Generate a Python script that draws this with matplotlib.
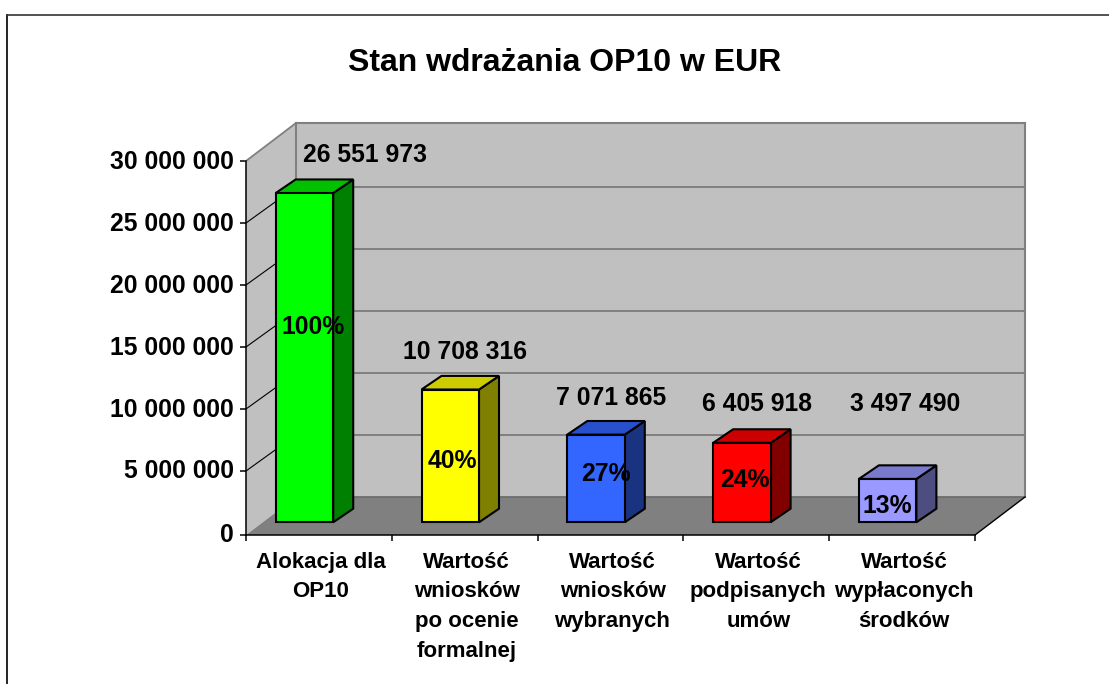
import matplotlib
matplotlib.use("Agg")
import matplotlib.pyplot as plt
from matplotlib.patches import Polygon
from matplotlib.lines import Line2D
from matplotlib.transforms import ScaledTranslation

categories = ["Alokacja dla\nOP10", "Wartość\nwniosków\npo ocenie\nformalnej", "Wartość\nwniosków\nwybranych",
              "Wartość\npodpisanych\numów", "Wartość\nwypłaconych\nśrodków"]
values = [26551973, 10708316, 7071865, 6405918, 3497490]
value_labels = ["26 551 973", "10 708 316", "7 071 865", "6 405 918", "3 497 490"]
percent_labels = ["100%", "40%", "27%", "24%", "13%"]
y_ticks = [5000000, 10000000, 15000000, 20000000, 25000000, 30000000]
y_tick_labels = ["5 000 000", "10 000 000", "15 000 000", "20 000 000", "25 000 000", "30 000 000"]
title = "Stan wdrażania OP10 w EUR"

front_colors = ["#00FF00", "#FFFF00", "#3366FF", "#FF0000", "#9999FF"]
top_colors = ["#00C000", "#CCCC00", "#2850CC", "#CC0000", "#7A7ACC"]
side_colors = ["#008000", "#808000", "#1A3380", "#800000", "#4D4D80"]
# label offsets in pixels from the top-centre of each bar's front face
value_off = [(61, 38), (15, 37.5), (15, 36.6), (15, 39), (17.5, 75)]
percent_off = [(8.5, -134), (2, -71.5), (10, -39.4), (3, -37), (0, -27)]

W, H = 1109, 684
plt.rcParams["font.family"] = ["Liberation Sans", "DejaVu Sans"]
plt.rcParams["font.weight"] = "bold"
fig = plt.figure(figsize=(W / 100, H / 100), dpi=100)
L, R, T, B, B0 = 246, 975, 161, 535, 533
px_y = 30000000 / (B0 - T)
px_x = 5 / (R - L)
YMIN = -(B - B0) * px_y
ax = fig.add_axes([L / W, 1 - B / H, (R - L) / W, (B - T) / H])
ax.set_xlim(0, 5)
ax.set_ylim(YMIN, 30000000)

DX, DY = 50 * px_x, 38 * px_y          # depth of the chart box
GDY = 36 * px_y                        # depth lift of the gridlines
BDX, BDY = 20 * px_x, 13.6 * px_y      # depth of a bar
FLOOR = 10.7 * px_y                    # lift of the bar base above zero
BAR_L, BAR_W = 29.7 * px_x, 57.5 * px_x
TOP = 30000000

wall = "#C0C0C0"
edge = "#808080"
ax.add_patch(Polygon([(0, YMIN), (0, TOP), (DX, TOP + DY), (DX, YMIN + DY)], fc=wall, ec="none", zorder=1, clip_on=False))
ax.add_patch(Polygon([(DX, YMIN + DY), (DX, TOP + DY), (5 + DX, TOP + DY), (5 + DX, YMIN + DY)], fc=wall, ec="none", zorder=1, clip_on=False))
ax.add_patch(Polygon([(0, YMIN), (DX, YMIN + DY), (5 + DX, YMIN + DY), (5, YMIN)], fc=edge, ec="none", zorder=1, clip_on=False))

def seg(xs, ys, c, lw, z=2):
    ax.add_line(Line2D(xs, ys, color=c, lw=lw, zorder=z, clip_on=False, solid_capstyle="projecting"))

for v in y_ticks[:-1]:
    seg([DX, 5 + DX], [v + GDY, v + GDY], "#6E6E6E", 1.1)
    seg([0, DX], [v, v + GDY], "black", 0.8)
seg([0, DX], [TOP, TOP + DY], edge, 1.3)
seg([DX, 5 + DX], [TOP + DY, TOP + DY], edge, 1.5)
seg([DX, DX], [YMIN + DY, TOP + DY], edge, 1.5)
seg([5 + DX, 5 + DX], [YMIN + DY, TOP + DY], edge, 1.5)
seg([DX, 5 + DX], [YMIN + DY, YMIN + DY], "#6E6E6E", 1.3)
seg([5, 5 + DX], [YMIN, YMIN + DY], "black", 1.0)

for i, v in enumerate(values):
    x0, x1 = i + BAR_L, i + BAR_L + BAR_W
    y0, y1 = FLOOR, v + FLOOR
    kw = dict(ec="black", lw=1.5, joinstyle="miter", zorder=5, clip_on=False)
    ax.add_patch(Polygon([(x1, y0), (x1 + BDX, y0 + BDY), (x1 + BDX, y1 + BDY), (x1, y1)], fc=side_colors[i], **kw))
    ax.add_patch(Polygon([(x0, y1), (x0 + BDX, y1 + BDY), (x1 + BDX, y1 + BDY), (x1, y1)], fc=top_colors[i], **kw))
    ax.add_patch(Polygon([(x0, y0), (x1, y0), (x1, y1), (x0, y1)], fc=front_colors[i], **kw))
    cx = (x0 + x1) / 2
    ax.annotate(value_labels[i], (cx, y1), xytext=value_off[i], textcoords="offset pixels",
                ha="center", va="center", fontsize=17.8, fontweight="bold", zorder=7, annotation_clip=False)
    ax.annotate(percent_labels[i], (cx, y1), xytext=percent_off[i], textcoords="offset pixels",
                ha="center", va="center", fontsize=17.8, fontweight="bold", zorder=7, annotation_clip=False)

for s in ("top", "right"):
    ax.spines[s].set_visible(False)
for s in ("left", "bottom"):
    ax.spines[s].set_linewidth(1.1)
    ax.spines[s].set_zorder(3)
ax.set_yticks([YMIN] + y_ticks)
ax.set_yticklabels(["0"] + y_tick_labels, fontsize=17.8, fontweight="bold")
ax.tick_params(axis="y", length=4.5, width=1.1, pad=4.5)
shift = ScaledTranslation(0, 2 / 100, fig.dpi_scale_trans)
for lab in ax.get_yticklabels():
    lab.set_transform(lab.get_transform() + shift)
ax.set_xticks(range(6), minor=True)
ax.tick_params(axis="x", which="minor", length=4.5, width=1.1)
ax.set_xticks([i + 0.5 + 2 * px_x for i in range(5)])
ax.set_xticklabels(categories, fontsize=16, fontweight="bold", linespacing=1.55)
ax.tick_params(axis="x", which="major", length=0, pad=12)

fig.text(565 / W, 1 - 63 / H, title, ha="center", va="center", fontsize=23, fontweight="bold")
fig.add_artist(Line2D([7 / W, 7 / W], [0, 1 - 15 / H], color="black", lw=1.2))
fig.add_artist(Line2D([7 / W, 1], [1 - 15 / H, 1 - 15 / H], color="#333333", lw=1.2))

fig.savefig("out.png", dpi=100)
